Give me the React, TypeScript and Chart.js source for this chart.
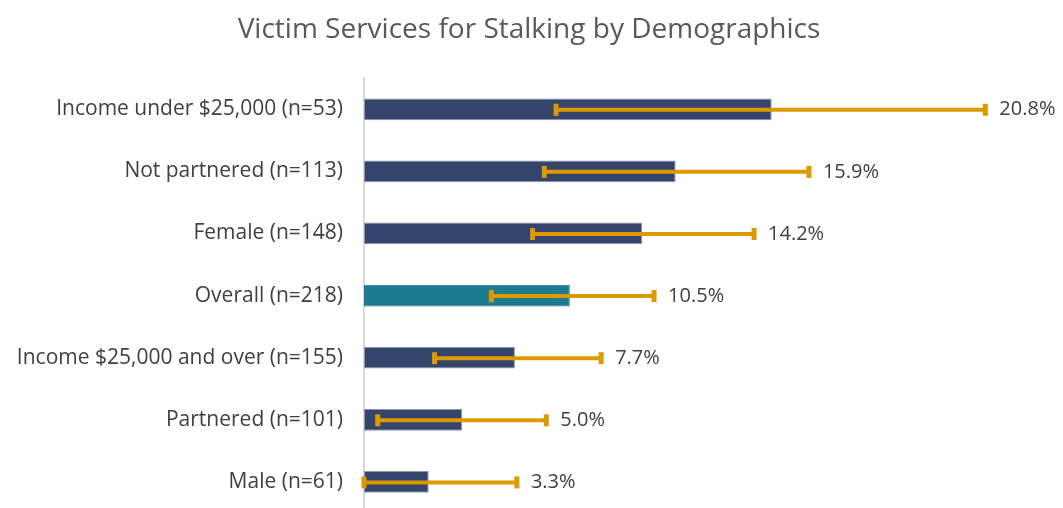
import React, { useEffect, useRef } from "react";
import { Chart, registerables } from "chart.js";

Chart.register(...registerables);

const categories = [
  "Income under $25,000 (n=53)",
  "Not partnered (n=113)",
  "Female (n=148)",
  "Overall (n=218)",
  "Income $25,000 and over (n=155)",
  "Partnered (n=101)",
  "Male (n=61)",
];
const values = [20.8, 15.9, 14.2, 10.5, 7.7, 5.0, 3.3];
const lowerCI = [9.8, 9.2, 8.6, 6.5, 3.6, 0.7, 0.0];
const upperCI = [31.7, 22.7, 19.9, 14.8, 12.1, 9.3, 7.8];
const barColors = ["#35446b", "#35446b", "#35446b", "#1e7a8e", "#35446b", "#35446b", "#35446b"];
const barBorders = ["#8d97b3", "#8d97b3", "#8d97b3", "#1e7a8e", "#8d97b3", "#8d97b3", "#8d97b3"];

const FONT = "'Open Sans', Lato, sans-serif";

const errorBarPlugin = {
  id: "errorBars",
  afterDatasetsDraw(chart: any) {
    const ctx = chart.ctx;
    const meta = chart.getDatasetMeta(0);
    const xs = chart.scales.x;
    ctx.save();
    meta.data.forEach((bar: any, i: number) => {
      const y = bar.y + 0.5;
      const x1 = xs.getPixelForValue(lowerCI[i]);
      const x2 = xs.getPixelForValue(upperCI[i]);
      ctx.strokeStyle = "#dc9a00";
      ctx.fillStyle = "#dc9a00";
      ctx.lineWidth = 4;
      ctx.beginPath();
      ctx.moveTo(x1, y);
      ctx.lineTo(x2, y);
      ctx.stroke();
      ctx.fillRect(x1 - 2.5, y - 6, 5, 12);
      ctx.fillRect(x2 - 2.5, y - 6, 5, 12);
      ctx.fillStyle = "#404040";
      ctx.font = `20px ${FONT}`;
      ctx.textAlign = "left";
      ctx.textBaseline = "middle";
      ctx.fillText(values[i].toFixed(1) + "%", x2 + 14, y);
    });
    ctx.restore();
  },
};

export default function App() {
  const ref = useRef<HTMLCanvasElement>(null);
  useEffect(() => {
    if (!ref.current) return;
    const chart = new Chart(ref.current, {
      type: "bar",
      data: {
        labels: categories,
        datasets: [
          {
            data: values,
            backgroundColor: barColors,
            borderColor: barBorders,
            borderWidth: 1,
            borderSkipped: false,
            categoryPercentage: 1,
            barPercentage: 0.35,
          },
        ],
      },
      options: {
        indexAxis: "y",
        responsive: false,
        animation: false,
        layout: { padding: { left: 0, right: 5, top: 0, bottom: 0 } },
        plugins: {
          legend: { display: false },
          tooltip: { enabled: false },
          title: {
            display: true,
            text: "Victim Services for Stalking by Demographics",
            color: "#595959",
            font: { family: FONT, size: 28, weight: "normal", lineHeight: 1.2 },
            padding: { top: 5, bottom: 31.6 },
          },
        },
        scales: {
          x: { display: false, min: 0, max: 35 },
          y: {
            afterFit(scale: any) {
              scale.width = 356;
              scale.paddingTop = 0;
              scale.paddingBottom = 0;
            },
            grid: { display: false, drawTicks: false },
            border: { display: true, color: "#d9d9d9", width: 2 },
            ticks: {
              color: "#404040",
              padding: 21,
              font: { family: FONT, size: 21 },
            },
          },
        },
      },
      plugins: [errorBarPlugin],
    } as any);
    return () => chart.destroy();
  }, []);
  return (
    <div style={{ width: 1047, height: 500, overflow: "hidden" }}>
      <canvas ref={ref} width={1047} height={505} style={{ display: "block" }} />
    </div>
  );
}
